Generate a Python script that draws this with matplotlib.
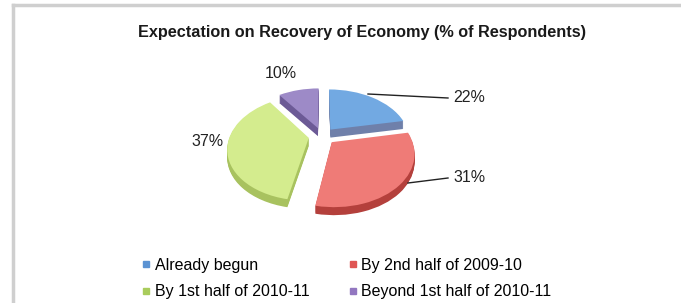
import numpy as np
import matplotlib.pyplot as plt
from matplotlib.lines import Line2D
from matplotlib.transforms import Transform, Affine2D

plt.rcParams['font.family'] = ['Liberation Sans', 'DejaVu Sans']

categories = ["Already begun", "By 2nd half of 2009-10",
              "By 1st half of 2010-11", "Beyond 1st half of 2010-11"]
shares = [22, 31, 37, 10]
labels = ["22%", "31%", "37%", "10%"]

top_colors = ["#72a9e2", "#ef7b77", "#d4ec8e", "#9d8ac7"]
side_colors = ["#6f80aa", "#b4403c", "#a8c25f", "#6c5a96"]
legend_colors = ["#5b93d3", "#df5553", "#a9cc5c", "#9277c0"]

W, H = 681, 303
fig = plt.figure(figsize=(W / 100, H / 100), dpi=100)
fig.patch.set_facecolor("white")

# one axes in pixel units (y pointing up)
ax = fig.add_axes([0, 0, 1, 1])


class Tilt(Transform):
    """Unit pie coordinates -> pixels, with a simple perspective (back smaller)."""
    input_dims = output_dims = 2

    def __init__(self, cx, cy, c, a, b):
        super().__init__()
        self.cx, self.cy, self.c, self.a, self.b = cx, cy, c, a, b

    def transform_non_affine(self, values):
        v = np.asarray(values, float)
        x, y = v[:, 0], v[:, 1]
        s = 1.0 / (1.0 + self.b * y)
        return np.column_stack([self.cx + self.c * x * s, self.cy + self.a * y * s])


tilt = Tilt(cx=322, cy=H - 136, c=79, a=50, b=0.19)
explode = [0.17] * 4
depth = 8

for k in range(depth, 0, -1):
    side, _ = ax.pie(shares, colors=side_colors, explode=explode, startangle=90,
                     counterclock=False, wedgeprops=dict(linewidth=0))
    for w in side:
        w.set_transform(tilt + Affine2D().translate(0, -k) + ax.transData)
wedges, _ = ax.pie(shares, colors=top_colors, explode=explode, startangle=90,
                   counterclock=False, wedgeprops=dict(linewidth=0))
for w in wedges:
    w.set_transform(tilt + ax.transData)

ax.set_aspect("auto")
ax.set_xlim(0, W)
ax.set_ylim(0, H)
ax.axis("off")

# frame lines at top and left
ax.plot([13, W], [H - 5, H - 5], color="#cfcfcf", lw=2.5, clip_on=False)
ax.plot([13, 13], [H - 5, 0], color="#cfcfcf", lw=2.5, clip_on=False)

ax.text(362, H - 33, "Expectation on Recovery of Economy (% of Respondents)",
        ha="center", va="center", fontsize=11.7, fontweight="bold", color="#1a1a1a")

# data labels (pixel layout) and leader lines
label_pos = [(453, 97), (453, 178), (208, 141), (281, 73)]
leaders = [((368, 94), (448, 98)), ((408, 183), (448, 178)), None, None]
for lab, (tx, ty), ld in zip(labels, label_pos, leaders):
    if ld is not None:
        (x0, y0), (x1, y1) = ld
        ax.plot([x0, x1], [H - y0, H - y1], color="#222222", lw=1.0)
    ax.text(tx, H - ty, lab, ha="left" if ld else "center", va="center",
            fontsize=11.5, color="#222222")

handles = [Line2D([], [], marker="s", ls="", markersize=5,
                  markerfacecolor=c, markeredgecolor=c) for c in legend_colors]
order = [0, 2, 1, 3]
fig.legend([handles[i] for i in order], [categories[i] for i in order],
           ncol=2, loc="upper left", bbox_to_anchor=(134 / W, 1 - 250 / H),
           frameon=False, fontsize=11.5, handlelength=0.5, handletextpad=0.3,
           columnspacing=2.45, labelspacing=0.72, borderpad=0)

fig.savefig("out.png", dpi=100)
